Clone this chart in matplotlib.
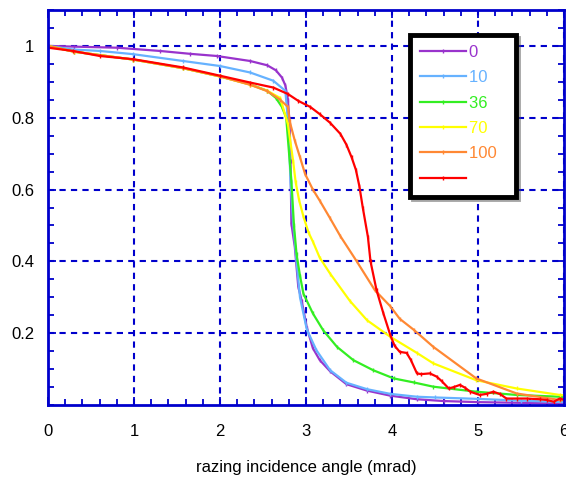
import matplotlib
matplotlib.use("Agg")
import matplotlib.pyplot as plt
from matplotlib.ticker import MultipleLocator

plt.rcParams['font.family'] = ['Liberation Sans', 'DejaVu Sans']

# series labels and colours
labels = ['0', '10', '36', '70', '100', '']
colors = ['#9933cc', '#66b2ff', '#33ee22', '#ffff00', '#ff8833', '#ff0000']

# 0
x0 = [0, 0.3, 0.8, 1.3, 1.65, 1.96, 2.35, 2.55, 2.65, 2.72, 2.76, 2.79, 2.81, 2.82, 2.83, 2.87,
      2.91, 2.95, 3.01, 3.08, 3.16, 3.28, 3.47, 3.71, 3.98, 4.29, 4.6, 5.0, 5.5, 6.0]
y0 = [1.0, 0.998, 0.995, 0.986, 0.978, 0.972, 0.958, 0.946, 0.932, 0.912, 0.89, 0.85, 0.78, 0.68,
      0.505, 0.44, 0.33, 0.29, 0.215, 0.158, 0.125, 0.094, 0.058, 0.04, 0.026, 0.016, 0.011,
      0.008, 0.006, 0.004]

# 10
x10 = [0, 0.29, 0.6, 0.99, 1.57, 2.0, 2.35, 2.62, 2.76, 2.78, 2.80, 2.82, 2.85, 2.89, 2.93, 3.01,
       3.12, 3.28, 3.47, 3.71, 3.98, 4.29, 4.5, 5.0, 5.5, 6.0]
y10 = [1.0, 0.99, 0.986, 0.977, 0.958, 0.944, 0.926, 0.903, 0.875, 0.82, 0.75, 0.62, 0.51, 0.40,
       0.30, 0.21, 0.153, 0.097, 0.062, 0.044, 0.031, 0.023, 0.021, 0.017, 0.012, 0.008]

# 36
x36 = [0, 0.3, 0.99, 1.57, 2.0, 2.35, 2.55, 2.65, 2.72, 2.77, 2.81, 2.83, 2.86, 2.89, 2.93, 2.97,
       3.08, 3.20, 3.36, 3.55, 3.78, 4.02, 4.25, 4.48, 4.98, 5.45, 5.95, 6.0]
y36 = [1.0, 0.984, 0.962, 0.938, 0.915, 0.893, 0.875, 0.855, 0.83, 0.80, 0.68, 0.625, 0.50, 0.42,
       0.36, 0.31, 0.255, 0.208, 0.162, 0.125, 0.097, 0.074, 0.063, 0.051, 0.037, 0.028, 0.023, 0.022]

# 70
x70 = [0, 0.3, 0.99, 1.57, 2.0, 2.35, 2.55, 2.70, 2.79, 2.85, 2.88, 2.92, 2.97, 3.03, 3.08, 3.16,
       3.28, 3.51, 3.71, 3.98, 4.29, 4.48, 4.98, 5.45, 5.95, 6.0]
y70 = [1.0, 0.984, 0.962, 0.938, 0.915, 0.892, 0.875, 0.855, 0.782, 0.68, 0.62, 0.57, 0.525, 0.48,
       0.455, 0.41, 0.366, 0.29, 0.236, 0.19, 0.145, 0.116, 0.069, 0.046, 0.028, 0.027]

# 100
x100 = [0, 0.3, 0.99, 1.57, 2.0, 2.35, 2.55, 2.70, 2.79, 2.81, 2.87, 2.93, 2.99, 3.08, 3.16, 3.28,
        3.40, 3.59, 3.80, 3.98, 4.09, 4.25, 4.48, 4.98, 5.45, 5.95, 6.0]
y100 = [1.0, 0.984, 0.962, 0.938, 0.915, 0.892, 0.874, 0.85, 0.83, 0.79, 0.736, 0.69, 0.643, 0.60,
        0.569, 0.52, 0.47, 0.40, 0.32, 0.275, 0.24, 0.21, 0.162, 0.074, 0.032, 0.014, 0.013]

# last (red)
xr = [0, 0.29, 0.6, 0.99, 1.57, 2.0, 2.35, 2.62, 2.79, 2.91, 3.05, 3.16, 3.28, 3.40, 3.47, 3.53,
      3.58, 3.62, 3.66, 3.72, 3.75, 3.82, 3.90, 3.98, 4.03, 4.09, 4.17, 4.22, 4.29, 4.34, 4.44,
      4.52, 4.58, 4.66, 4.72, 4.79, 4.85, 4.91, 5.02, 5.10, 5.18, 5.26, 5.33, 5.45, 5.57, 5.72,
      5.80, 5.88, 5.95, 6.0]
yr = [0.995, 0.986, 0.972, 0.963, 0.94, 0.917, 0.898, 0.884, 0.866, 0.847, 0.83, 0.81, 0.786,
      0.755, 0.725, 0.69, 0.655, 0.61, 0.55, 0.468, 0.40, 0.32, 0.255, 0.195, 0.165, 0.148, 0.145,
      0.125, 0.088, 0.086, 0.088, 0.079, 0.066, 0.046, 0.05, 0.056, 0.048, 0.037, 0.028, 0.031,
      0.037, 0.03, 0.018, 0.018, 0.018, 0.016, 0.014, 0.009, 0.018, 0.015]

xs = [x0, x10, x36, x70, x100, xr]
ys = [y0, y10, y36, y70, y100, yr]

blue = '#0000cc'

fig = plt.figure(figsize=(5.66, 4.79), dpi=100)
ax = fig.add_axes([48 / 566, 74 / 479, 516 / 566, 395 / 479])

lines = []
for x, y, c in zip(xs, ys, colors):
    ln, = ax.plot(x, y, color=c, lw=1.6, marker='|', ms=3, mew=1)
    lines.append(ln)

ax.set_xlim(0, 6)
ax.set_ylim(0, 1.1)
ax.set_xticks([0, 1, 2, 3, 4, 5, 6])
ax.set_yticks([0.2, 0.4, 0.6, 0.8, 1.0])
ax.set_yticklabels(['0.2', '0.4', '0.6', '0.8', '1'])
ax.xaxis.set_minor_locator(MultipleLocator(0.2))
ax.yaxis.set_minor_locator(MultipleLocator(0.05))
ax.tick_params(which='both', direction='in', top=True, right=True, color=blue, width=1.3,
               labelsize=12)
ax.tick_params(which='major', length=6)
ax.tick_params(which='minor', length=4)
ax.tick_params(axis='x', pad=14)
ax.tick_params(axis='y', pad=10)
for s in ax.spines.values():
    s.set_color(blue)
    s.set_linewidth(2)
ax.grid(True, color=blue, linestyle=(0, (3, 2.5)), linewidth=1.5)
ax.set_axisbelow(True)
ax.set_xlabel('razing incidence angle (mrad)', fontsize=12, labelpad=15)

leg = ax.legend(lines, [l + '  ' for l in labels], loc='upper left',
                bbox_to_anchor=(0.702, 0.937), frameon=True, fancybox=False,
                shadow=True, fontsize=12, handlelength=2.75, handletextpad=0.15,
                labelspacing=0.62, borderpad=0.6, borderaxespad=0, numpoints=1)
leg.get_frame().set_edgecolor('black')
leg.get_frame().set_linewidth(3.5)
for t, c in zip(leg.get_texts(), colors):
    t.set_color(c)

fig.savefig('out.png', dpi=100)
